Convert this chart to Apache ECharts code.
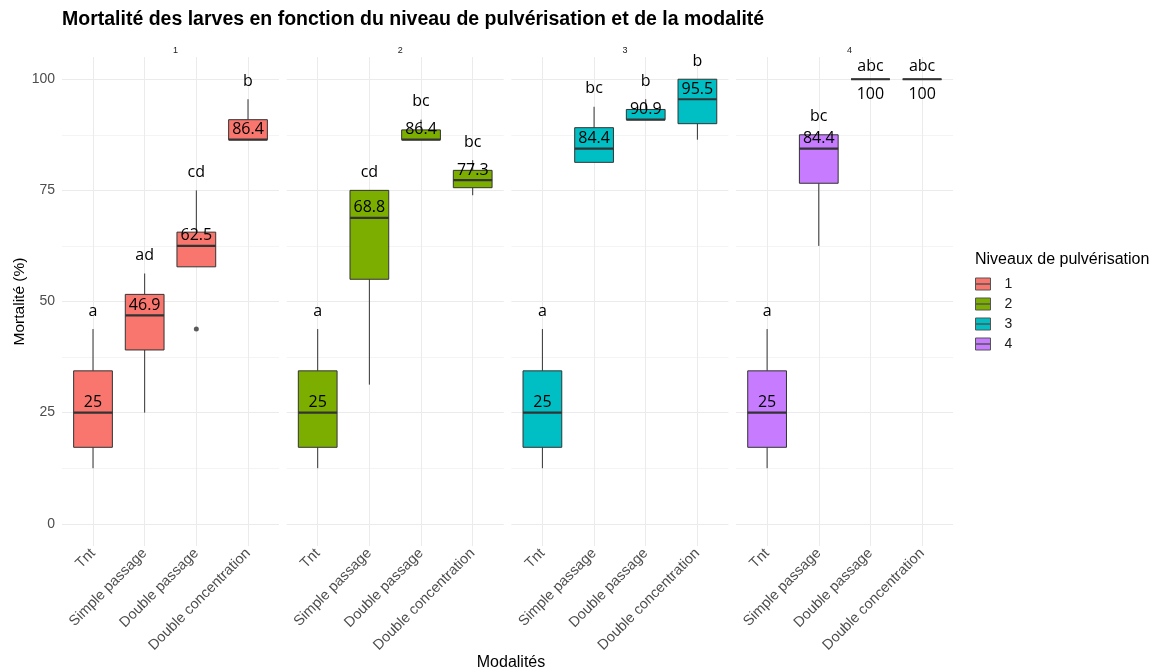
<!DOCTYPE html>
<html>
<head>
<meta charset="utf-8">
<script src="https://cdn.jsdelivr.net/npm/echarts@6/dist/echarts.min.js"></script>
<style>
html,body{margin:0;padding:0;background:#fff;}
#main{width:1158px;height:670px;}
</style>
</head>
<body>
<div id="main"></div>
<script>
// ---- data ----
const categories = ['Tnt', 'Simple passage', 'Double passage', 'Double concentration'];
const levels = ['1', '2', '3', '4'];
const colors = ['#F8766D', '#7CAE00', '#00BFC4', '#C77CFF'];
const xPositions = [1, 2, 3, 4];
const yTicks = [0, 25, 50, 75, 100];
const yMinorTicks = [12.5, 37.5, 62.5, 87.5];

// [min, Q1, median, Q3, max] per modalité
const boxes1 = [[12.5, 17.2, 25, 34.4, 43.8], [25, 39.1, 46.9, 51.6, 56.3], [57.8, 57.8, 62.5, 65.6, 75], [86.4, 86.4, 86.4, 90.9, 95.5]];
const boxes2 = [[12.5, 17.2, 25, 34.4, 43.8], [31.3, 55, 68.8, 75, 75], [86.4, 86.4, 86.4, 88.6, 90.9], [73.9, 75.6, 77.3, 79.5, 81.8]];
const boxes3 = [[12.5, 17.2, 25, 34.4, 43.8], [81.3, 81.3, 84.4, 89.1, 93.8], [90.9, 90.9, 90.9, 93.2, 95.5], [86.4, 90.0, 95.5, 100, 100]];
const boxes4 = [[12.5, 17.2, 25, 34.4, 43.8], [62.5, 76.6, 84.4, 87.5, 87.5], [100, 100, 100, 100, 100], [100, 100, 100, 100, 100]];

const letters1 = ['a', 'ad', 'cd', 'b'];
const letters2 = ['a', 'cd', 'bc', 'bc'];
const letters3 = ['a', 'bc', 'b', 'b'];
const letters4 = ['a', 'bc', 'abc', 'abc'];

const medianLabels1 = ['25', '46.9', '62.5', '86.4'];
const medianLabels2 = ['25', '68.8', '86.4', '77.3'];
const medianLabels3 = ['25', '84.4', '90.9', '95.5'];
const medianLabels4 = ['25', '84.4', '100', '100'];

// outliers: [modalité position, value]
const outliers1 = [[3, 43.8]];
const outliers2 = [];
const outliers3 = [];
const outliers4 = [];

// ---- build ----
const allBoxes = [boxes1, boxes2, boxes3, boxes4];
const allLetters = [letters1, letters2, letters3, letters4];
const allMedianLabels = [medianLabels1, medianLabels2, medianLabels3, medianLabels4];
const allOutliers = [outliers1, outliers2, outliers3, outliers4];

const chart = echarts.init(document.getElementById('main'), null, {renderer: 'canvas'});

const PANEL_LEFT = 62, PANEL_STEP = 224.7, PANEL_W = 217, PANEL_TOP = 57, PANEL_H = 489;
const grids = [], xAxes = [], yAxes = [], series = [], titles = [];

titles.push({
  text: 'Mortalité des larves en fonction du niveau de pulvérisation et de la modalité',
  left: 57, top: 5,
  textStyle: {fontFamily: 'Liberation Sans', fontWeight: 'bold', fontSize: 19.5, color: '#000'}
});

levels.forEach((lv, i) => {
  const left = PANEL_LEFT + i * PANEL_STEP;
  grids.push({left: left, top: PANEL_TOP, width: PANEL_W, height: PANEL_H, containLabel: false});
  titles.push({
    text: lv, left: left + PANEL_W / 2, top: 41, textAlign: 'center',
    textStyle: {fontFamily: 'Liberation Sans', fontWeight: 'normal', fontSize: 9, color: '#1a1a1a'}
  });
  xAxes.push({
    type: 'value', gridIndex: i, min: 0.4, max: 4.6,
    axisLine: {show: false},
    axisTick: {show: false, customValues: xPositions},
    axisLabel: {
      show: true, customValues: xPositions, rotate: 45, margin: 5,
      fontFamily: 'Liberation Sans', fontSize: 14.5, color: '#4d4d4d',
      formatter: v => categories[Math.round(v) - 1]
    },
    splitLine: {show: true, lineStyle: {color: '#ebebeb', width: 1}}
  });
  // minor horizontal grid
  yAxes.push({
    type: 'value', gridIndex: i, min: -5, max: 105, position: 'left',
    axisLine: {show: false},
    axisTick: {show: false, customValues: yMinorTicks},
    axisLabel: {show: false},
    splitLine: {show: true, lineStyle: {color: '#f4f4f4', width: 1}}
  });
  // main y axis
  yAxes.push({
    type: 'value', gridIndex: i, min: -5, max: 105, position: 'left',
    axisLine: {show: false},
    axisTick: {show: false, customValues: yTicks},
    axisLabel: {show: i === 0, customValues: yTicks, margin: 7, fontFamily: 'Liberation Sans', fontSize: 14, color: '#4d4d4d'},
    splitLine: {show: true, lineStyle: {color: '#ebebeb', width: 1}},
    name: i === 0 ? 'Mortalité (%)' : '',
    nameLocation: 'middle', nameRotate: 90, nameGap: 34,
    nameTextStyle: {fontFamily: 'Liberation Sans', fontSize: 15.5, color: '#000'}
  });

  const boxes = allBoxes[i], letters = allLetters[i], medLabels = allMedianLabels[i];
  series.push({
    name: lv,
    type: 'custom',
    xAxisIndex: i, yAxisIndex: 2 * i + 1,
    clip: false,
    itemStyle: {color: colors[i]},
    data: boxes.map((b, j) => [xPositions[j]].concat(b)),
    encode: {x: 0, y: [1, 2, 3, 4, 5]},
    renderItem: function (params, api) {
      const x = api.value(0);
      const vals = [1, 2, 3, 4, 5].map(k => api.value(k));
      const pMin = api.coord([x, vals[0]]);
      const pQ1 = api.coord([x, vals[1]]);
      const pMed = api.coord([x, vals[2]]);
      const pQ3 = api.coord([x, vals[3]]);
      const pMax = api.coord([x, vals[4]]);
      const halfW = api.size([0.75, 0])[0] / 2;
      const cx = pMed[0];
      const stroke = '#333333';
      const idx = params.dataIndex;
      const children = [
        {type: 'line', shape: {x1: cx, y1: pMax[1], x2: cx, y2: pQ3[1]}, style: {stroke: stroke, lineWidth: 1}},
        {type: 'line', shape: {x1: cx, y1: pQ1[1], x2: cx, y2: pMin[1]}, style: {stroke: stroke, lineWidth: 1}},
        {type: 'rect', shape: {x: cx - halfW, y: pQ3[1], width: 2 * halfW, height: pQ1[1] - pQ3[1]},
          style: {fill: colors[i], stroke: stroke, lineWidth: 1}},
        {type: 'line', shape: {x1: cx - halfW, y1: pMed[1], x2: cx + halfW, y2: pMed[1]}, style: {stroke: stroke, lineWidth: 2.2}}
      ];
      const degenerate = vals[0] === vals[4];
      children.push({
        type: 'text',
        style: {
          text: medLabels[idx], x: cx, y: degenerate ? pMed[1] + 15 : pMed[1] - 10,
          align: 'center', verticalAlign: 'middle', font: '16px "Open Sans"', fill: '#000'
        }
      });
      children.push({
        type: 'text',
        style: {
          text: letters[idx], x: cx, y: pMax[1] - (degenerate ? 13 : 18),
          align: 'center', verticalAlign: 'middle', font: '16px "Open Sans"', fill: '#000'
        }
      });
      return {type: 'group', children: children};
    }
  });
  series.push({
    name: 'outliers-' + lv,
    type: 'scatter',
    xAxisIndex: i, yAxisIndex: 2 * i + 1,
    symbolSize: 5,
    itemStyle: {color: '#333333'},
    data: allOutliers[i]
  });
});

titles.push({
  text: 'Modalités', left: 506, top: 650, textAlign: 'center',
  textStyle: {fontFamily: 'Liberation Sans', fontWeight: 'normal', fontSize: 16, color: '#000'}
});
titles.push({
  text: 'Niveaux de pulvérisation', left: 970, top: 247,
  textStyle: {fontFamily: 'Liberation Sans', fontWeight: 'normal', fontSize: 16, color: '#000'}
});

chart.setOption({
  animation: false,
  backgroundColor: '#ffffff',
  title: titles,
  grid: grids,
  xAxis: xAxes,
  yAxis: yAxes,
  legend: {
    data: levels,
    orient: 'vertical',
    left: 970, top: 272,
    itemWidth: 15, itemHeight: 12, itemGap: 6,
    icon: 'path://M0,0H15V6H0Z M0,6H15V12H0Z',
    itemStyle: {borderColor: '#555555', borderWidth: 1},
    textStyle: {fontFamily: 'Liberation Sans', fontSize: 14, color: '#1a1a1a', padding: [0, 0, 0, 9]},
    selectedMode: false
  },
  series: series
});
</script>
</body>
</html>
